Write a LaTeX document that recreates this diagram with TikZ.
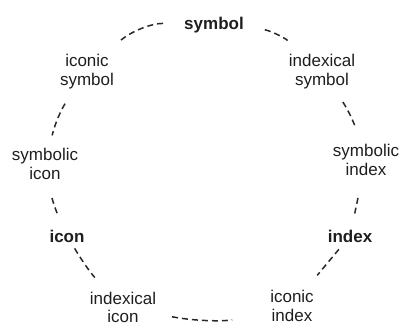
\documentclass[tikz,border=0pt]{standalone}
\usepackage{fontspec}
\setmainfont{Liberation Sans}
\usepackage{xcolor}
\definecolor{ink}{RGB}{30,30,30}
\definecolor{rim}{RGB}{40,40,40}

\begin{document}
\begin{tikzpicture}[x=1pt,y=-1pt,font=\fontsize{17}{18.5}\selectfont,
  sign/.style={align=center,inner sep=0pt,anchor=base,text=ink},
  link/.style 2 args={rim,line width=1.5pt,dash pattern=on 6pt off 4pt,shorten <=#1,shorten >=#2}]
  \useasboundingbox (0,0) rectangle (403,325);
  \node[sign] (sym) at (214,29){\textbf{symbol}};
  \node[sign] (isym) at (87,85){iconic\\symbol};
  \node[sign] (xsym) at (322,85){indexical\\symbol};
  \node[sign] (sicon) at (45,179){symbolic\\icon};
  \node[sign] (sidx) at (366,175){symbolic\\index};
  \node[sign] (icon) at (67,242){\textbf{icon}};
  \node[sign] (idx) at (350,242){\textbf{index}};
  \node[sign] (xicon) at (123,322.5){indexical\\icon};
  \node[sign] (iidx) at (292,321){iconic\\index};
  \draw[link={21}{18}] (sym) to[bend right=22] (isym);
  \draw[link={21}{20}] (sym) to[bend left=18] (xsym);
  \draw[link={18}{13}] (isym) to[bend right=10] (sicon);
  \draw[link={16}{17}] (xsym) to[bend left=8] (sidx);
  \draw[link={19}{16}] (sicon) to[bend right=6] (icon);
  \draw[link={23}{13}] (sidx) -- (idx);
  \draw[link={7}{19}] (icon) to[bend right=6] (xicon);
  \draw[link={9}{19}] (idx) -- (iidx);
  \draw[link={16}{39}] (xicon) to[bend right=12] (iidx);
\end{tikzpicture}
\end{document}
